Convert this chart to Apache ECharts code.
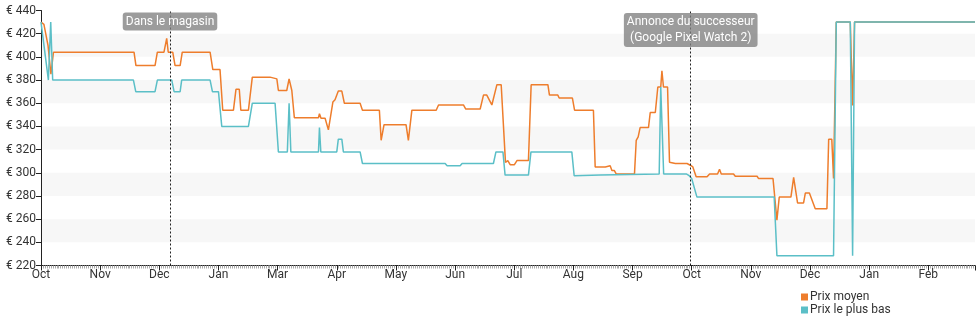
<!DOCTYPE html>
<html>
<head>
<meta charset="utf-8">
<script src="https://cdn.jsdelivr.net/npm/echarts@6/dist/echarts.min.js"></script>
<style>
  html, body { margin: 0; padding: 0; background: #fff; }
  #chart { width: 980px; height: 325px; }
</style>
</head>
<body>
<div id="chart"></div>
<script>
// Month labels placed every dayStep days along the x axis
const monthLabels = ['Oct', 'Nov', 'Dec', 'Jan', 'Mar', 'Apr', 'May', 'Jun', 'Jul', 'Aug', 'Sep', 'Oct', 'Nov', 'Dec', 'Jan', 'Feb'];
const dayStep = 30.4;
const lastDay = 480;

// Average price (day index, €)
const avgDays = [0, 1.5, 3.6, 5.1, 6.4, 47.8, 48.8, 58.6, 59.8, 63.2, 64.6, 65.4, 67.7, 68.9, 71.5, 72.6, 86.9, 88.3, 92, 93.4,
  98.9, 100.2, 101.9, 102.7, 106.6, 108.6, 117.7, 121.2, 122, 126.3, 127.5, 128.9, 130.2, 142.6, 143.1, 143.9, 146, 147.7,
  150, 151.1, 152.8, 154.6, 155.9, 164, 165.2, 173.9, 174.8, 176.3, 187.6, 188.8, 190.6, 203.1, 204.3, 217.1, 218.3, 225.7,
  227.4, 229.1, 231.7, 234.3, 236.5, 238.7, 239.9, 241.1, 243.3, 244.6, 250.5, 251.9, 260.5, 261.3, 265.6, 266.3, 273.1,
  274.2, 283.9, 284.8, 290, 291, 292.5, 293.4, 294.6, 295.6, 305, 305.9, 306.9, 307.6, 307.9, 312.2, 313.1, 315.7, 317,
  318.5, 319.1, 319.9, 322, 323, 326, 332, 333.7, 335, 336.7, 342.3, 343.6, 347.7, 348.7, 349.6, 355.9, 356.8, 368, 368.8,
  376.2, 378.2, 379.4, 385.4, 386.8, 388.8, 391.9, 392.8, 394.9, 397.9, 403.9, 404.8, 406.4, 407.3, 408.7, 415.9, 417.1,
  418.1, 480];
const avgPrices = [430, 428, 410, 385, 404, 404, 392.5, 392.5, 404, 404, 416, 404, 404, 392.5, 392.5, 404, 404, 389, 389, 354,
  354, 372, 372, 354, 354, 382.5, 382.5, 381, 371, 371, 381, 371, 347.5, 347.5, 351, 347, 347, 337,
  361, 363, 370.5, 370.5, 360, 360, 354, 354, 328, 341.5, 341.5, 328, 354, 354, 358.5, 358.5, 355, 355,
  367, 367, 358.5, 376, 376, 309, 310.5, 307, 307, 310.5, 310.5, 376, 376, 367, 367, 364.5, 364.5,
  354, 354, 305, 305, 306, 306, 302, 302, 299, 299, 328, 331, 331, 339, 339, 352, 352, 374,
  374, 388, 374, 374, 309, 308, 308, 306.5, 305, 296.5, 296.5, 299, 299, 303, 299, 299, 297, 297, 295,
  295, 259, 279, 279, 296, 274, 274, 282.5, 282.5, 269, 269, 329, 329, 295, 430, 430, 358,
  430, 430];

// Lowest price (day index, €)
const lowDays = [0, 0.8, 3.8, 5, 6, 47.5, 48.7, 58.6, 59.8, 67.2, 68.4, 71.5, 72.3, 86.9, 88.1, 91.2, 92.9, 106.6, 108.6,
  120.3, 122, 126.6, 127.5, 128.4, 142.6, 143.1, 143.8, 152, 152.8, 154.6, 155.4, 164, 165.2, 207.7, 208.7, 215.4, 216.4,
  232.5, 233.8, 237.4, 238.5, 250.5, 251.8, 272.8, 274, 287.4, 317.7, 318.5, 319.5, 320, 331.6, 333.1, 334.4, 337.1, 376.8,
  378.2, 407.3, 408.7, 415.9, 417.1, 418.1, 480];
const lowPrices = [430, 430, 380, 430, 380, 380, 370, 370, 380, 380, 370, 370, 380, 380, 370, 370, 340, 340, 360,
  360, 318, 318, 360, 318, 318, 339, 318, 318, 329, 329, 318, 318, 308, 308, 306, 306, 308,
  308, 318, 318, 298, 298, 318, 318, 297.5, 298, 299, 374, 374, 299, 299, 297.5, 295, 279, 279,
  228.5, 228.5, 430, 430, 228.5, 430, 430];

// Event markers
const eventDays = [66.3, 333.9];
const eventLabels = ['Dans le magasin', 'Annonce du successeur\n(Google Pixel Watch 2)'];
const eventLabelDrop = [-20, -36.5];

// y axis ticks
const yMin = 220, yMax = 440, yStep = 20;

const zip = (xs, ys) => xs.map((x, i) => [x, ys[i]]);
const font = 'Roboto, "Noto Sans", sans-serif';

const chart = echarts.init(document.getElementById('chart'), null, { renderer: 'canvas' });
chart.setOption({
  animation: false,
  grid: { left: 41, right: 5, top: 10.5, bottom: 59.5 },
  legend: {
    orient: 'vertical',
    left: 801,
    top: 291,
    padding: 0,
    itemWidth: 7,
    itemHeight: 7,
    itemGap: 1,
    icon: 'rect',
    textStyle: { fontFamily: font, fontSize: 12, color: '#333', padding: [0, 0, 0, -3] },
    data: ['Prix moyen', 'Prix le plus bas']
  },
  xAxis: {
    type: 'value',
    min: 0,
    max: lastDay,
    interval: dayStep,
    axisLine: { show: true, lineStyle: { color: '#222', width: 1 } },
    axisTick: { show: true, length: 5, lineStyle: { color: '#222' } },
    minorTick: { show: true, splitNumber: 30, length: 3, lineStyle: { color: '#aaa', width: 1 } },
    splitLine: { show: false },
    axisLabel: {
      fontFamily: font, fontSize: 12, color: '#333', margin: 3, showMaxLabel: false,
      formatter: v => monthLabels[Math.round(v / dayStep)] || ''
    }
  },
  yAxis: {
    type: 'value',
    min: yMin,
    max: yMax,
    interval: yStep,
    axisLine: { show: true, lineStyle: { color: '#222', width: 1 } },
    axisTick: { show: true, length: 5, lineStyle: { color: '#222' } },
    splitLine: { show: false },
    splitArea: { show: true, areaStyle: { color: ['rgba(255,255,255,0)', '#f7f7f7'] } },
    axisLabel: { fontFamily: font, fontSize: 12, color: '#333', margin: 5, formatter: v => '€ ' + v }
  },
  series: [
    {
      name: 'Prix moyen',
      type: 'line',
      data: zip(avgDays, avgPrices),
      showSymbol: false,
      symbol: 'none',
      color: '#ee7d2c',
      lineStyle: { width: 1.5, color: '#ee7d2c' },
      markLine: {
        silent: true,
        symbol: ['none', 'none'],
        lineStyle: { type: [2, 2], color: '#222', width: 1 },
        label: {
          show: true,
          position: 'end',
          color: '#fff',
          fontFamily: font,
          fontSize: 12,
          lineHeight: 16,
          backgroundColor: 'rgba(128,128,128,0.78)',
          borderRadius: 3,
          padding: [1, 3]
        },
        data: eventDays.map((d, i) => ({
          xAxis: d,
          label: { formatter: eventLabels[i], distance: eventLabelDrop[i] }
        }))
      },
      z: 2
    },
    {
      name: 'Prix le plus bas',
      type: 'line',
      data: zip(lowDays, lowPrices),
      showSymbol: false,
      symbol: 'none',
      color: '#5bbfc7',
      lineStyle: { width: 1.5, color: '#5bbfc7' },
      z: 3
    }
  ]
});
</script>
</body>
</html>
